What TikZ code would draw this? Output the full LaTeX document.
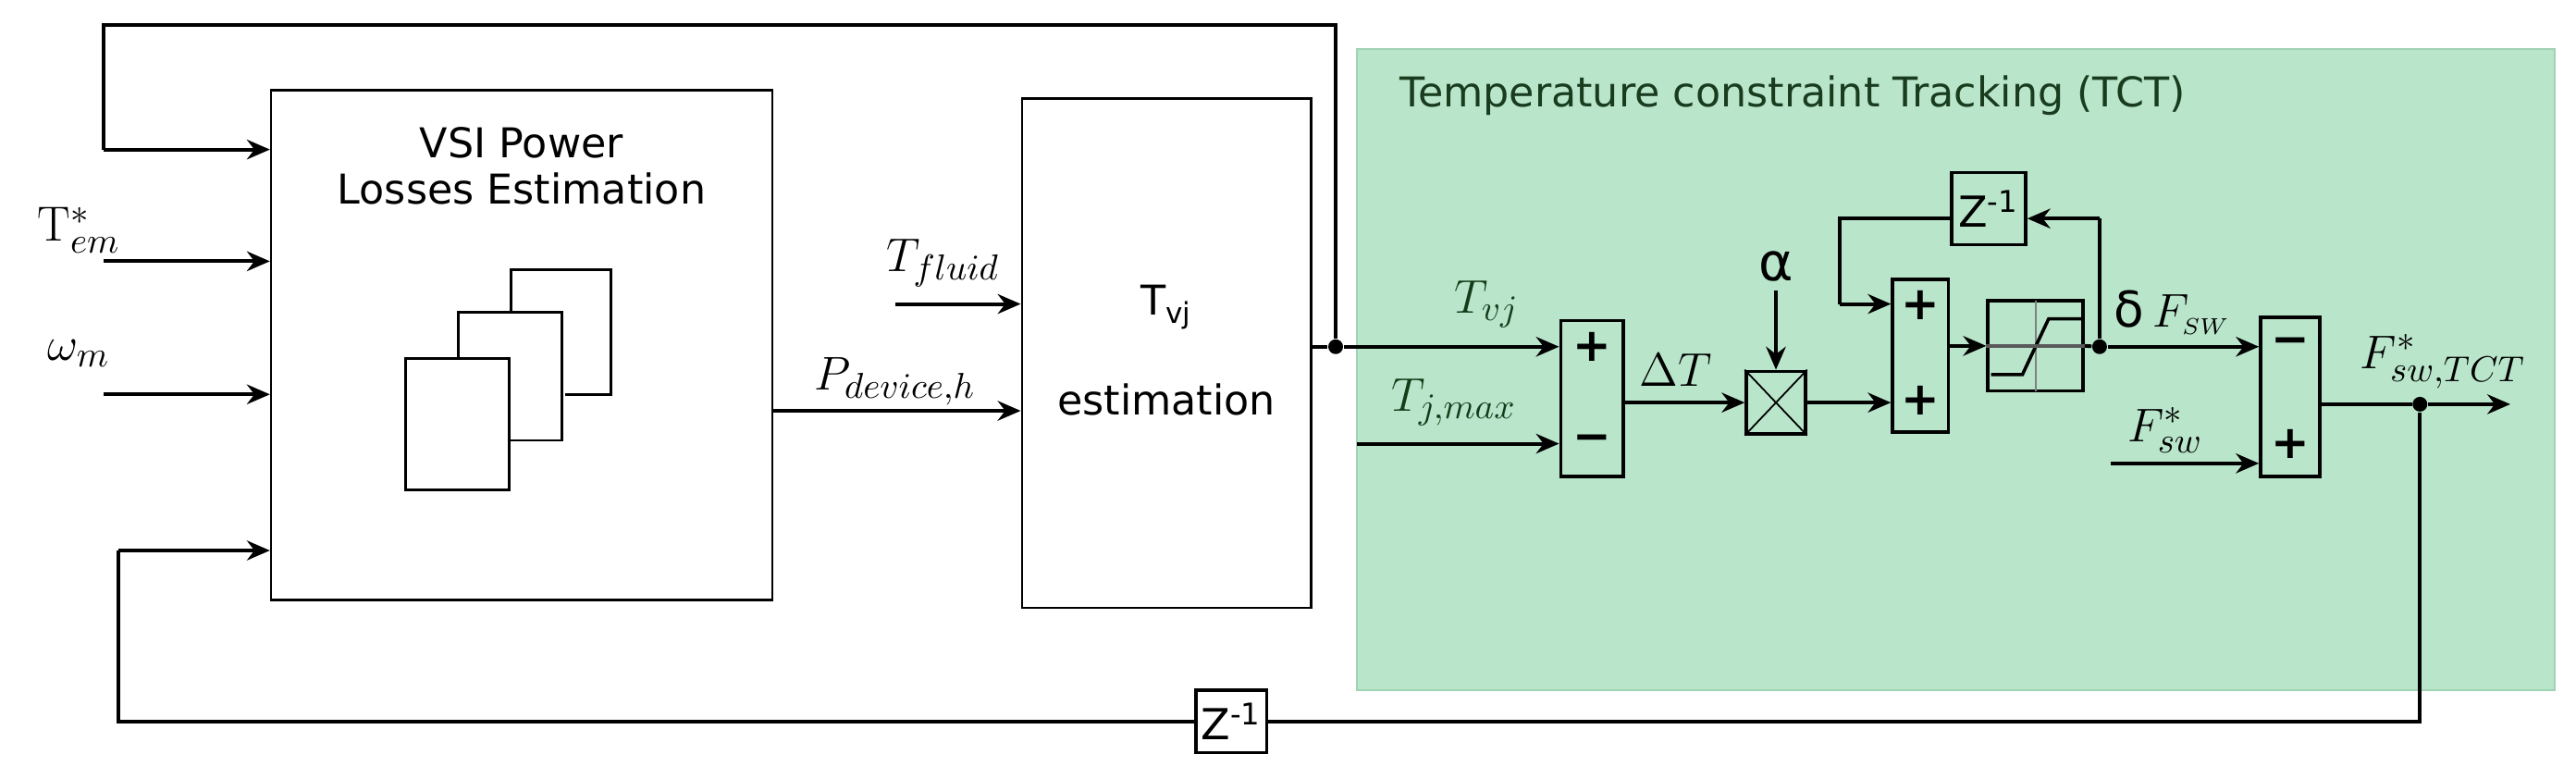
\documentclass[tikz,border=0pt]{standalone}
\usepackage{fontspec}
\setsansfont{DejaVu Sans}
\usetikzlibrary{arrows.meta}
\begin{document}
\begin{tikzpicture}[x=0.5pt,y=-0.5pt,
  blk/.style={draw,line width=0.7pt,inner sep=0pt},
  sig/.style={line width=1.1pt,-{Stealth[length=7pt,width=6pt]}},
  wire/.style={line width=1.1pt},
  dot/.style={circle,fill,inner sep=0pt,minimum size=4.5pt},
  txt/.style={font=\fontsize{12.5}{14}\sffamily},
  lbl/.style={font=\fontsize{15}{17}\selectfont},
  sgn/.style={font=\fontsize{14}{16}\sffamily\bfseries}]
\useasboundingbox (0,0) rectangle (1568,474);
\fill[green!60!teal!35!white, fill=green!30!white!80!cyan] (826,30) rectangle (1555,420);
\fill[fill={rgb,255:red,185;green,229;blue,203}] (826,30) rectangle (1555,420);
\draw[line width=0.5pt,color={rgb,255:red,160;green,210;blue,180}] (826,30) rectangle (1555,420);
\node[anchor=west,font=\fontsize{12.5}{14}\sffamily,text={rgb,255:red,25;green,60;blue,30}] (title) at (845,58) {Temperature constraint Tracking (TCT)};
% main boxes
\node[blk,minimum width=152.5pt,minimum height=155pt] (vsi) at (317.5,210) {};
\node[txt,align=center] (vsit) at (317.5,101) {VSI Power\\Losses Estimation};
\draw[line width=0.8pt] (311,190) -- (311,164) -- (372,164) -- (372,240) -- (344,240);
\draw[line width=0.8pt,fill=white] (279,242) -- (279,190) -- (342,190) -- (342,268) -- (310,268);
\draw[line width=0.8pt,fill=white] (247,218) rectangle (310,298);
\node[blk,minimum width=88pt,minimum height=155pt] (est) at (710,215) {};
\node[txt] (tvjt) at (710,187) {T\textsubscript{vj}};
\node[txt] (estt) at (710,243) {estimation};
% inputs
\coordinate (tl) at (63,15);
\node[lbl] (tem) at (48,140) {T$^*_{em}$};
\node[lbl] (wm) at (48,215) {$\omega_m$};
\coordinate (i1) at (63,159); \coordinate (i2) at (63,240);
\draw[sig] (i1) -- (vsi.west |- i1);
\draw[sig] (i2) -- (vsi.west |- i2);
\node[lbl] (pdev) at (545,232) {$P_{device,h}$};
\node[lbl] (tfl) at (574,160) {$T_{fluid}$};
\coordinate (tf0) at (545,185);
\draw[sig] (tf0) -- (est.west |- tf0);
\draw[sig] (vsi.east |- 0,250) -- (est.west |- 0,250);
% junction
\node[dot] (j1) at (813,211) {};
\draw[wire] (est.east |- j1) -- (j1);
\draw[wire] (j1) -- (813,15) -- (63,15) -- (63,91);
\draw[sig] (63,91) -- (vsi.west |- 0,91);
% TCT
\node[blk,line width=1pt,minimum width=19pt,minimum height=47.5pt] (s1) at (969,242.5) {};
\node[sgn] at (969,211) {+}; \node[sgn] at (969,270) {\textminus};
\node[lbl,text={rgb,255:red,20;green,60;blue,25}] (ltvj) at (905,185) {$T_{vj}$};
\node[lbl,text={rgb,255:red,20;green,60;blue,25}] (ltj) at (885,245) {$T_{j,max}$};
\draw[sig] (j1) -- (s1.west |- j1);
\coordinate (tj0) at (826,270);
\draw[sig] (tj0) -- (s1.west |- tj0);
\node[blk,line width=1pt,minimum width=18pt,minimum height=19pt] (mul) at (1081,245) {};
\draw[line width=0.5pt] (mul.north west) -- (mul.south east) (mul.north east) -- (mul.south west);
\node[lbl] (dT) at (1020,225) {$\Delta T$};
\node[lbl,font=\fontsize{16}{18}\sffamily] (al) at (1081,162) {α};
\draw[sig] (1081,177) -- (mul.north);
\draw[sig] (s1.east |- mul) -- (mul.west);
\node[blk,line width=1pt,minimum width=17pt,minimum height=46.5pt] (s2) at (1169,216.5) {};
\node[sgn] at (1169,186) {+}; \node[sgn] at (1169,244) {+};
\draw[sig] (mul.east) -- (s2.west |- mul);
\node[blk,line width=1pt,minimum width=29pt,minimum height=27.5pt] (sat) at (1239,210.5) {};
\draw[line width=0.6pt,gray] (1239,183) -- (1239,238);
\draw[line width=1pt] (1212,228) -- (1231,228) -- (1247,194) -- (1267,194);
\draw[sig] (s2.east |- sat) -- (sat.west);
\draw[wire,gray!70!black] (sat.west) -- (sat.east);
\node[dot] (j2) at (1278,211) {};
\draw[wire] (sat.east) -- (j2);
\node[blk,line width=1pt,minimum width=22.5pt,minimum height=22pt] (z1) at (1210.5,127) {\fontsize{13}{15}\sffamily Z\textsuperscript{-1}};
\draw[wire] (j2) -- (1278,133);
\draw[sig] (1278,133) -- (z1.east |- 0,133);
\draw[wire] (z1.west |- 0,133) -- (1120,133) -- (1120,185);
\draw[sig] (1120,185) -- (s2.west |- 0,185);
\node[blk,line width=1pt,minimum width=18pt,minimum height=48.5pt] (s3) at (1394,241.5) {};
\node[sgn] at (1394,211) {\textminus}; \node[sgn] at (1394,270) {+};
\node[lbl] (dF) at (1322,190) {{\sffamily δ}\,$F_{\scriptscriptstyle SW}$};
\draw[sig] (j2) -- (s3.west |- j2);
\node[lbl] (fsw) at (1318,262) {$F^*_{sw}$};
\coordinate (fs0) at (1285,282);
\draw[sig] (fs0) -- (s3.west |- fs0);
\node[lbl] (ftct) at (1487,220) {$F^*_{sw,TCT}$};
\node[dot] (j3) at (1473,246) {};
\coordinate (oend) at (1528,246);
\draw[wire] (s3.east |- j3) -- (j3);
\draw[sig] (j3) -- (oend);
\node[blk,line width=1pt,minimum width=21.5pt,minimum height=19pt] (z2) at (749.5,439) {\fontsize{13}{15}\sffamily Z\textsuperscript{-1}};
\draw[wire] (j3) -- (1473,439) -- (z2.east);
\draw[wire] (z2.west) -- (72,439) -- (72,335);
\draw[sig] (72,335) -- (vsi.west |- 0,335);
\end{tikzpicture}
\end{document}
